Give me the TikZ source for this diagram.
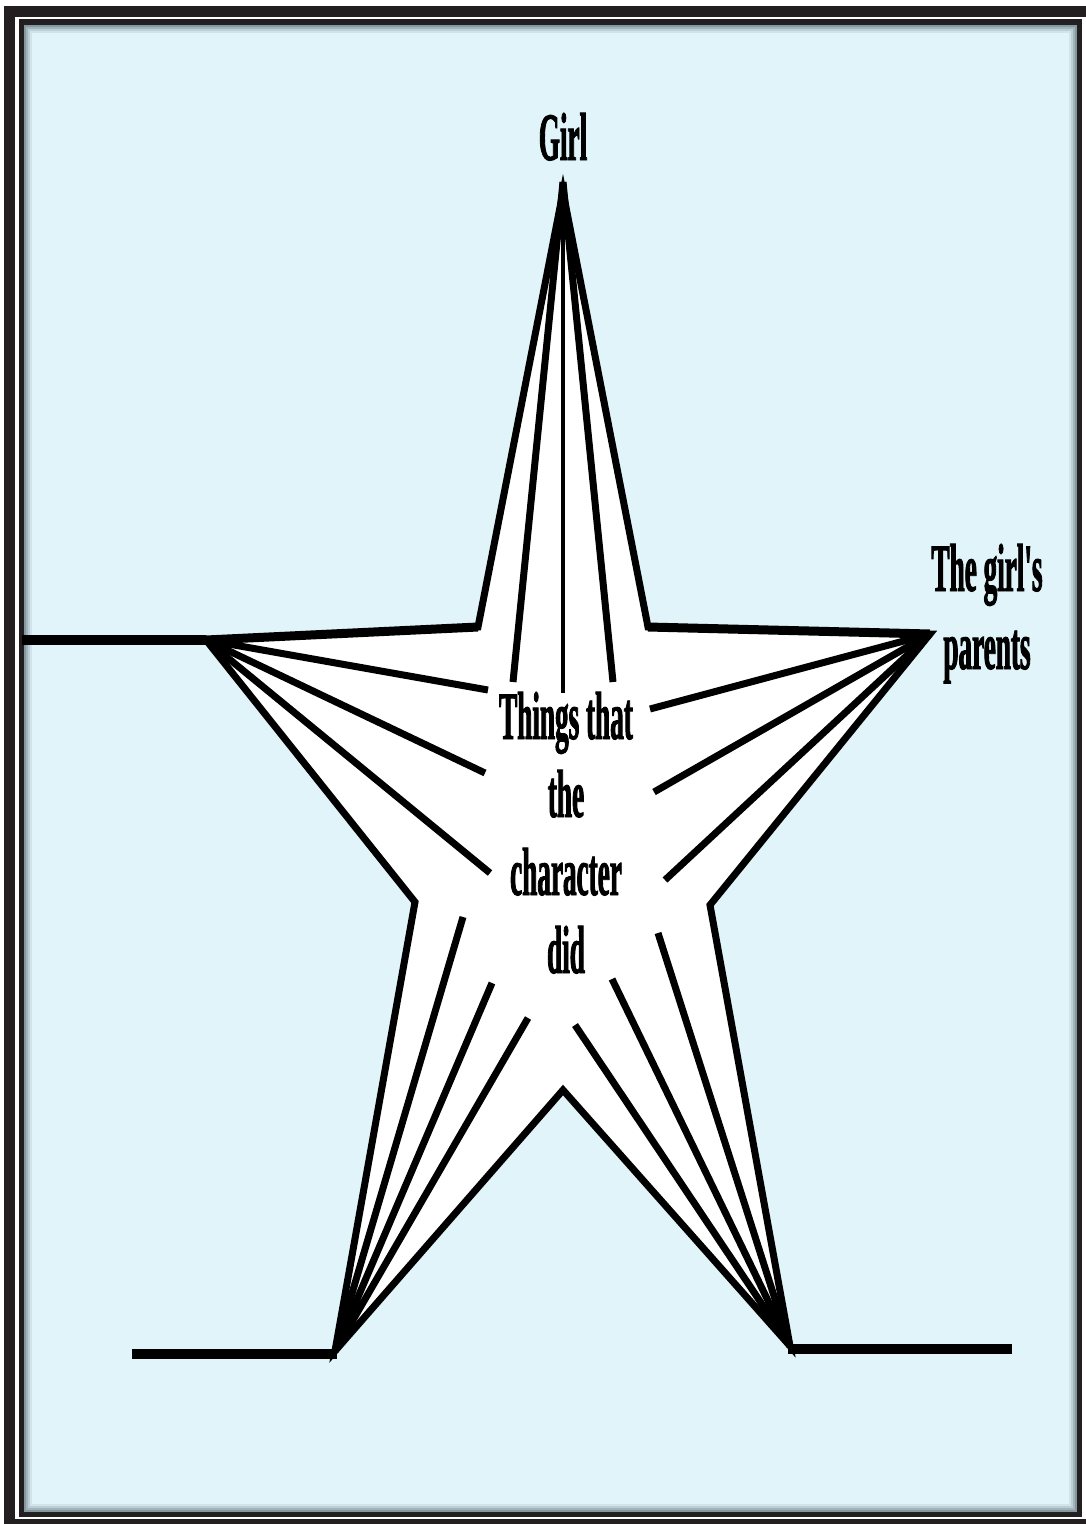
\documentclass[tikz,border=0pt]{standalone}
\usepackage{fontspec}
\newfontfamily\condserif[FakeStretch=0.40, FakeBold=1.2]{Liberation Serif Bold}
\definecolor{bgblue}{RGB}{224,244,250}
\definecolor{framedark}{RGB}{35,31,32}
\definecolor{shadowgray}{RGB}{110,128,136}
\tikzset{
  staredge/.style={line width=7pt, line join=miter, miter limit=12},
  topedge/.style={line width=9pt, line cap=butt},
  spoke/.style={line width=7pt, line cap=butt},
  thinspoke/.style={line width=4.5pt, line cap=butt},
  groundline/.style={line width=10.5pt, line cap=butt},
  txt/.style={inner sep=0pt, align=center, text=black,
    font=\condserif\fontsize{68}{78}\selectfont},
}
\begin{document}
\begin{tikzpicture}[x=1pt,y=-1pt]
\useasboundingbox (0,0) rectangle (1085,1524);
% frame
\fill[white] (0,0) rectangle (1085,1524);
\fill[framedark] (4,6) rectangle (1095,1540);
\fill[white] (15,17) rectangle (1095,1519);
\fill[framedark] (19,19) rectangle (1082,1517);
\fill[bgblue] (24,25) rectangle (1077,1512);
\draw[line width=2pt, color=shadowgray!80!bgblue] (25,26) rectangle (1076,1511);
\draw[line width=2pt, color=shadowgray!55!bgblue] (27,28) rectangle (1074,1509);
\draw[line width=2pt, color=shadowgray!32!bgblue] (29,30) rectangle (1072,1507);
\draw[line width=2pt, color=shadowgray!14!bgblue] (31,32) rectangle (1070,1505);

% star vertices
\coordinate (T)  at (563,192);
\coordinate (UR) at (648,627);
\coordinate (R)  at (930,634);
\coordinate (LR) at (710,905);
\coordinate (BR) at (790,1346);
\coordinate (B)  at (563,1090);
\coordinate (BL) at (335,1351);
\coordinate (LL) at (415,902);
\coordinate (L)  at (206,640);
\coordinate (UL) at (478,627);
\coordinate (Tsp) at (563,182);

% spoke ends
\coordinate (t1) at (513,682);
\coordinate (t2) at (563,693);
\coordinate (t3) at (613,682);
\coordinate (l1) at (488,690);
\coordinate (l2) at (485,773);
\coordinate (l3) at (490,873);
\coordinate (r1) at (650,709);
\coordinate (r2) at (654,792);
\coordinate (r3) at (665,880);
\coordinate (bl1) at (463,917);
\coordinate (bl2) at (492,983);
\coordinate (bl3) at (528,1018);
\coordinate (br1) at (575,1025);
\coordinate (br2) at (612,979);
\coordinate (br3) at (658,933);

% ground lines
\coordinate (g1) at (22,640);
\coordinate (g2) at (132,1354);
\coordinate (g3) at (1012,1349);
\coordinate (BLg) at (337,1354);
\coordinate (BRg) at (788,1349);
\draw[groundline] (g1) -- (L);
\draw[groundline] (g2) -- (BLg);
\draw[groundline] (BRg) -- (g3);

% star
\fill[white] (T) -- (UR) -- (R) -- (LR) -- (BR) -- (B) -- (BL) -- (LL) -- (L) -- (UL) -- cycle;

% spokes
\draw[spoke] (Tsp) -- (t1);
\draw[thinspoke] (Tsp) -- (t2);
\draw[spoke] (Tsp) -- (t3);
\draw[spoke] (L) -- (l1);
\draw[spoke] (L) -- (l2);
\draw[spoke] (L) -- (l3);
\draw[spoke] (R) -- (r1);
\draw[spoke] (R) -- (r2);
\draw[spoke] (R) -- (r3);
\draw[spoke] (BL) -- (bl1);
\draw[spoke] (BL) -- (bl2);
\draw[spoke] (BL) -- (bl3);
\draw[spoke] (BR) -- (br1);
\draw[spoke] (BR) -- (br2);
\draw[spoke] (BR) -- (br3);

\draw[staredge] (T) -- (UR) -- (R) -- (LR) -- (BR) -- (B) -- (BL) -- (LL) -- (L) -- (UL) -- cycle;
\draw[topedge] (L) -- (UL);
\draw[topedge] (UR) -- (R);

% labels (base anchor = baseline of last line)
\node[txt, anchor=base] (girl) at (563,160) {Girl};
\node[txt, anchor=base] (parents) at (987,669) {The girl's\\parents};
\node[txt, anchor=base] (things) at (566,973) {Things that\\the\\character\\did};
\end{tikzpicture}
\end{document}
